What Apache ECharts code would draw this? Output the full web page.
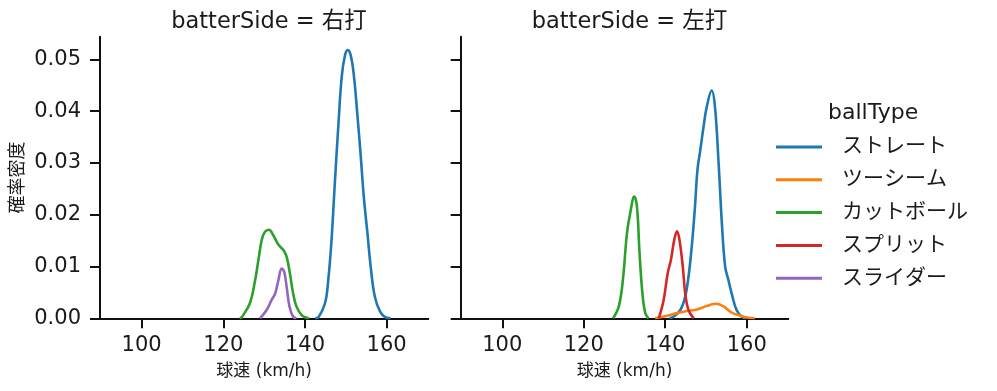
<!DOCTYPE html>
<html><head><meta charset="utf-8">
<script src="https://cdn.jsdelivr.net/npm/echarts@6/dist/echarts.min.js"></script>
<style>html,body{margin:0;padding:0;background:#fff}#c{width:997px;height:391px}</style>
</head><body><div id="c"></div>
<script>
const panelTitles = ['batterSide = 右打', 'batterSide = 左打'];
const ballTypes = ['ストレート', 'ツーシーム', 'カットボール', 'スプリット', 'スライダー'];
const colors = ['#1f77b4', '#ff7f0e', '#2ca02c', '#d62728', '#9467bd'];
const xTicks = [100, 120, 140, 160];
const yTicks = [0, 0.01, 0.02, 0.03, 0.04, 0.05];

// 右打
const rStraightX = [142.5,143.3,144.9,145.7,146.5,147.3,148.2,149.0,149.8,150.45,151.2,152.0,152.8,153.6,154.4,155.3,156.1,157.1,158.4,160.0,161.0];
const rStraightY = [0,0.0002,0.0029,0.0074,0.0151,0.026,0.0376,0.0467,0.0508,0.0518,0.0508,0.0467,0.0396,0.0319,0.0235,0.0164,0.0099,0.0042,0.0013,0.0001,0];
const rCutterX = [124.0,124.5,126.5,127.8,128.6,129.4,130.2,131.2,132.2,133.5,134.7,135.5,136.3,137.1,137.9,139.2,140.4,141.0];
const rCutterY = [0,0.0002,0.0029,0.0074,0.0113,0.0151,0.0167,0.0171,0.0161,0.0142,0.0132,0.0119,0.0087,0.0048,0.0023,0.0006,0.0001,0];
const rSliderX = [129.0,130.6,131.8,132.7,133.5,134.3,134.9,135.5,136.2,137.1,137.9];
const rSliderY = [0,0.0016,0.0035,0.0048,0.0074,0.0096,0.009,0.0061,0.0023,0.0003,0];

// 左打
const lStraightX = [141.0,142.0,143.7,144.9,145.7,146.5,147.3,147.9,148.6,149.4,150.2,151.4,152.2,153.1,153.9,154.7,155.5,156.3,157.5,158.8,159.8];
const lStraightY = [0,0.0003,0.0016,0.0042,0.008,0.0138,0.0216,0.0286,0.0325,0.037,0.0409,0.044,0.0409,0.0299,0.0183,0.01,0.0074,0.0048,0.0016,0.0003,0];
const lTwoSeamX = [137.5,140.4,142.9,145.3,147.8,150.2,152.5,154.3,156.3,158.4,160.5,162.0];
const lTwoSeamY = [0,0.0005,0.001,0.0014,0.0017,0.0024,0.0028,0.0023,0.0011,0.0005,0.0001,0];
const lCutterX = [127.2,128.6,129.6,130.6,131.4,132.4,133.05,133.7,134.4,135.1,135.9];
const lCutterY = [0,0.0023,0.0074,0.0164,0.0203,0.0235,0.0216,0.0125,0.0048,0.001,0];
const lSplitX = [138.4,139.6,140.6,141.4,142.2,142.9,143.5,144.3,144.9,145.7,147.0];
const lSplitY = [0,0.0035,0.0087,0.0113,0.0151,0.0168,0.0151,0.01,0.0048,0.0016,0];

function pairs(xs, ys){ return xs.map((x,i)=>[x, ys[i]]); }

const FONT = '"DejaVu Sans", "Noto Sans CJK JP", sans-serif';
const TXT = '#1a1a1a';
const grids = [
  {left:100, top:36.7, width:328.3, height:281.6},
  {left:460.7, top:36.7, width:327.6, height:281.6}
];
function xAx(gi){
  return {type:'value', gridIndex:gi, min:89.8, max:170.2,
    name:'球速 (km/h)', nameLocation:'middle', nameGap:45,
    nameTextStyle:{fontSize:17, color:TXT, fontFamily:FONT},
    axisLine:{lineStyle:{color:'#111', width:2}},
    axisTick:{show:true, length:10, lineStyle:{color:'#111', width:2}, customValues:xTicks},
    axisLabel:{fontSize:21, color:TXT, fontFamily:FONT, margin:17, customValues:xTicks},
    splitLine:{show:false}};
}
function yAx(gi){
  return {type:'value', gridIndex:gi, min:0, max:0.0544,
    name: gi===0 ? '確率密度' : '', nameLocation:'middle', nameGap:73,
    nameTextStyle:{fontSize:18, color:TXT, fontFamily:FONT},
    axisLine:{show:true, lineStyle:{color:'#111', width:2}},
    axisTick:{show:true, length:10, lineStyle:{color:'#111', width:2}, customValues:yTicks},
    axisLabel:{show: gi===0, fontSize:21, color:TXT, fontFamily:FONT, margin:19, customValues:yTicks,
      formatter:v=>v.toFixed(2)},
    splitLine:{show:false}};
}
function ser(name, gi, xs, ys){
  const c = colors[ballTypes.indexOf(name)];
  return {type:'line', name, xAxisIndex:gi, yAxisIndex:gi, data:pairs(xs,ys),
    smooth:0.4, showSymbol:false, symbol:'none', lineStyle:{width:2.6, color:c}, itemStyle:{color:c},
    silent:true, animation:false};
}
const chart = echarts.init(document.getElementById('c'), null, {renderer:'canvas'});
chart.setOption({
  animation:false,
  backgroundColor:'#fff',
  title:[
    {text:panelTitles[0], left:264, top:6, textAlign:'center', textStyle:{fontSize:22.5, fontWeight:'normal', color:TXT, fontFamily:FONT}},
    {text:panelTitles[1], left:624.5, top:6, textAlign:'center', textStyle:{fontSize:22.5, fontWeight:'normal', color:TXT, fontFamily:FONT}},
    {text:'ballType', left:823, top:97, textStyle:{fontSize:22, fontWeight:'normal', color:TXT, fontFamily:FONT}}
  ],
  legend:{orient:'vertical', left:776, top:136, padding:0, itemWidth:46, itemHeight:3, itemGap:10.8,
    icon:'rect', data:ballTypes,
    textStyle:{fontSize:21, color:TXT, fontFamily:FONT, lineHeight:22, padding:[0,0,0,15]}},
  grid:grids,
  xAxis:[xAx(0), xAx(1)],
  yAxis:[yAx(0), yAx(1)],
  series:[
    ser('ストレート',0,rStraightX,rStraightY),
    ser('カットボール',0,rCutterX,rCutterY),
    ser('スライダー',0,rSliderX,rSliderY),
    ser('ストレート',1,lStraightX,lStraightY),
    ser('ツーシーム',1,lTwoSeamX,lTwoSeamY),
    ser('カットボール',1,lCutterX,lCutterY),
    ser('スプリット',1,lSplitX,lSplitY)
  ]
});
</script></body></html>
